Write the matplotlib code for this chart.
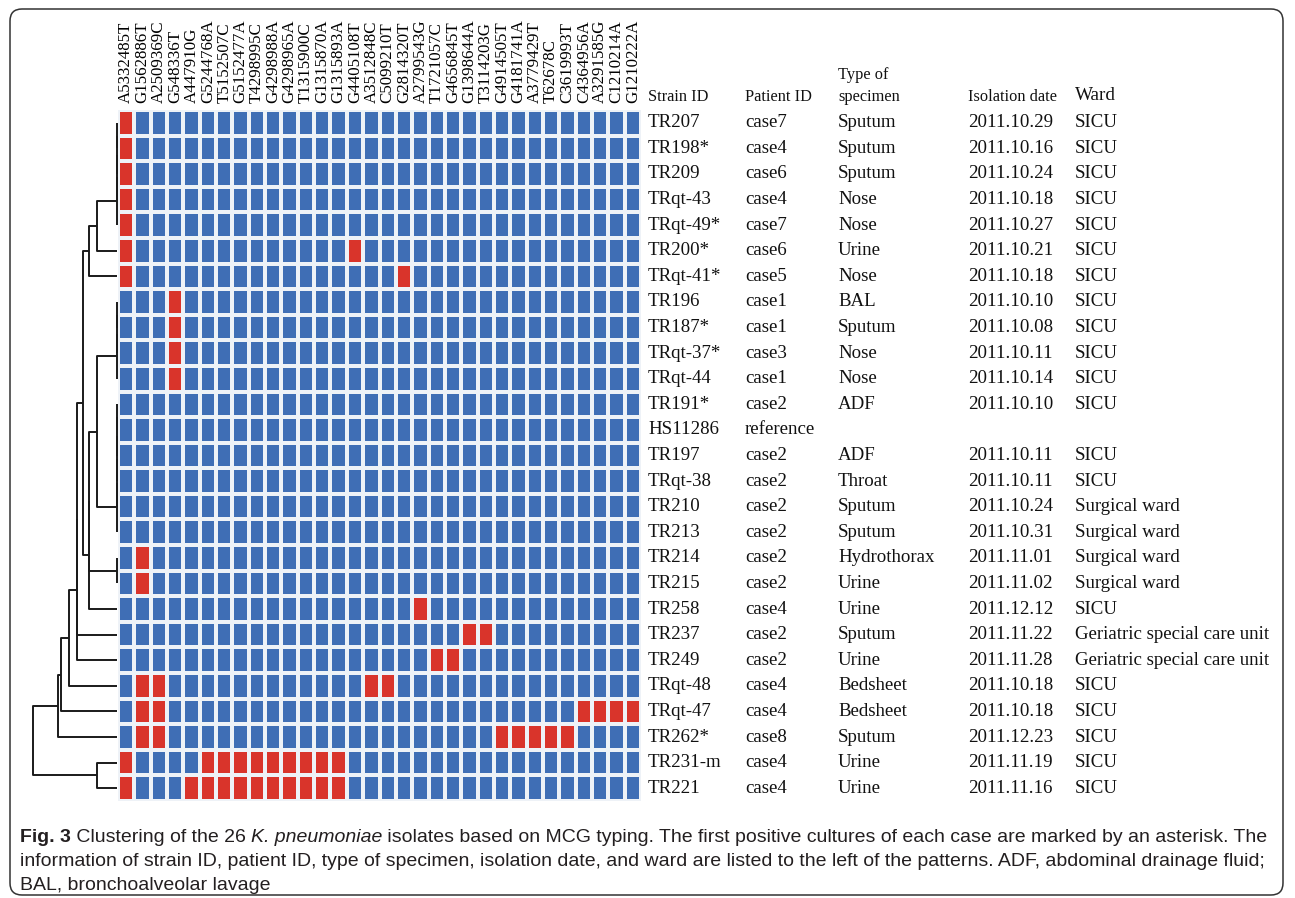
import matplotlib
matplotlib.use("Agg")
import matplotlib.pyplot as plt
from matplotlib.colors import ListedColormap
from matplotlib.patches import FancyBboxPatch
from matplotlib.transforms import blended_transform_factory
import numpy as np

W, H = 1295, 898

snps = ["A5332485T", "G1562886T", "A2509369C", "G548336T", "A447910G", "G5244768A",
        "T5152507C", "G5152477A", "T4298995C", "G4298988A", "G4298965A", "T1315900C",
        "G1315870A", "G1315893A", "G4405108T", "A3512848C", "C5099210T", "G2814320T",
        "A2799543G", "T1721057C", "G4656845T", "G1398644A", "T3114203G", "G4914505T",
        "G4181741A", "A3779429T", "T62678C", "C3619993T", "C4364956A", "A3291585G",
        "C1210214A", "G1210222A"]

strain_ids = ["TR207", "TR198*", "TR209", "TRqt-43", "TRqt-49*", "TR200*", "TRqt-41*",
              "TR196", "TR187*", "TRqt-37*", "TRqt-44", "TR191*", "HS11286", "TR197",
              "TRqt-38", "TR210", "TR213", "TR214", "TR215", "TR258", "TR237", "TR249",
              "TRqt-48", "TRqt-47", "TR262*", "TR231-m", "TR221"]
patient_ids = ["case7", "case4", "case6", "case4", "case7", "case6", "case5", "case1",
               "case1", "case3", "case1", "case2", "reference", "case2", "case2", "case2",
               "case2", "case2", "case2", "case4", "case2", "case2", "case4", "case4",
               "case8", "case4", "case4"]
specimens = ["Sputum", "Sputum", "Sputum", "Nose", "Nose", "Urine", "Nose", "BAL", "Sputum",
             "Nose", "Nose", "ADF", "", "ADF", "Throat", "Sputum", "Sputum", "Hydrothorax",
             "Urine", "Urine", "Sputum", "Urine", "Bedsheet", "Bedsheet", "Sputum", "Urine",
             "Urine"]
dates = ["2011.10.29", "2011.10.16", "2011.10.24", "2011.10.18", "2011.10.27", "2011.10.21",
         "2011.10.18", "2011.10.10", "2011.10.08", "2011.10.11", "2011.10.14", "2011.10.10",
         "", "2011.10.11", "2011.10.11", "2011.10.24", "2011.10.31", "2011.11.01",
         "2011.11.02", "2011.12.12", "2011.11.22", "2011.11.28", "2011.10.18", "2011.10.18",
         "2011.12.23", "2011.11.19", "2011.11.16"]
wards = ["SICU"] * 12 + ["", "SICU", "SICU"] + ["Surgical ward"] * 4 + ["SICU"] + \
        ["Geriatric special care unit"] * 2 + ["SICU"] * 5

# columns with the mutant allele (red) for each strain
positive_cols = [[0], [0], [0], [0], [0], [0, 14], [0, 17], [3], [3], [3], [3],
                 [], [], [], [], [], [], [1], [1], [18], [21, 22], [19, 20],
                 [1, 2, 15, 16], [1, 2, 28, 29, 30, 31], [1, 2, 23, 24, 25, 26, 27],
                 [0, 5, 6, 7, 8, 9, 10, 11, 12, 13], [0, 4, 5, 6, 7, 8, 9, 10, 11, 12, 13]]

# dendrogram merges (child a, child b, height); ids >= 27 are earlier merges
merges = [(0, 1, 0), (27, 2, 0), (28, 3, 0), (29, 4, 0), (30, 5, 20), (31, 6, 28),
          (7, 8, 0), (33, 9, 0), (34, 10, 0),
          (11, 12, 0), (36, 13, 0), (37, 14, 0), (38, 15, 0), (39, 16, 0),
          (35, 40, 20), (17, 18, 0), (41, 42, 28), (43, 19, 28), (32, 44, 34),
          (45, 20, 40), (46, 21, 40), (47, 22, 48), (48, 23, 56), (49, 24, 59),
          (25, 26, 20), (50, 51, 84)]

n_rows, n_cols = len(strain_ids), len(snps)
grid = np.zeros((n_rows, n_cols))
for r, cols in enumerate(positive_cols):
    grid[r, cols] = 1

fig = plt.figure(figsize=(W / 100, H / 100), dpi=100)

def px_axes(x0, y0, x1, y1):
    return fig.add_axes([x0 / W, 1 - y1 / H, (x1 - x0) / W, (y1 - y0) / H])

# background with frame
bg = fig.add_axes([0, 0, 1, 1], zorder=-1)
bg.set_xlim(0, W)
bg.set_ylim(H, 0)
bg.axis("off")
bg.add_patch(FancyBboxPatch((10, 9), W - 22, H - 12, boxstyle="round,pad=0,rounding_size=12",
                            fill=False, ec="#333333", lw=1.1))

# heatmap
hm = px_axes(118, 110, 641, 801)
hm.pcolormesh(grid, cmap=ListedColormap(["#3F6EB5", "#D9342B"]), edgecolors="#EEF2F7",
              linewidth=1.6)
hm.set_xlim(0, n_cols)
hm.set_ylim(n_rows, 0)
hm.xaxis.tick_top()
hm.set_xticks(np.arange(n_cols) + 0.5)
hm.set_xticklabels(snps, rotation=90, family="Liberation Serif", fontsize=12.2)
hm.tick_params(axis="x", length=0, pad=5)
hm.set_yticks([])
for s in hm.spines.values():
    s.set_visible(False)

# dendrogram
dn = px_axes(30, 110, 117, 801)
dn.set_xlim(87, 0)
dn.set_ylim(n_rows, 0)
dn.axis("off")
ypos = {i: i + 0.5 for i in range(n_rows)}
hgt = {i: 0 for i in range(n_rows)}
for k, (a, b, h) in enumerate(merges):
    dn.plot([hgt[a], h, h, hgt[b]], [ypos[a], ypos[a], ypos[b], ypos[b]],
            color="#1a1a1a", lw=1.4, clip_on=False, solid_capstyle="butt")
    ypos[n_rows + k] = (ypos[a] + ypos[b]) / 2
    hgt[n_rows + k] = h

# table of strain information
tr = blended_transform_factory(bg.transData, hm.transData)
col_x = [648, 745, 838, 968, 1075]
tkw = dict(family="Liberation Serif", fontsize=13.6, color="#111111", va="center")
for r in range(n_rows):
    for x, vals in zip(col_x, [strain_ids, patient_ids, specimens, dates, wards]):
        bg.text(x, r + 0.5, vals[r], transform=tr, **tkw)

hkw = dict(family="Liberation Serif", fontsize=11.8, color="#111111", va="center")
bg.text(col_x[0], 97, "Strain ID", **hkw)
bg.text(col_x[1], 97, "Patient ID", **hkw)
bg.text(col_x[2], 75, "Type of", **hkw)
bg.text(col_x[2], 97, "specimen", **hkw)
bg.text(col_x[3], 97, "Isolation date", **hkw)
bg.text(col_x[4], 96, "Ward", family="Liberation Serif", fontsize=13.8, color="#111111",
        va="center")

# caption
cap = dict(family="Liberation Sans", fontsize=14, color="#231f20", va="center")
renderer = fig.canvas.get_renderer()

def runs(x, y, parts):
    for txt, style in parts:
        kw = dict(cap)
        if style == "b":
            kw["weight"] = "bold"
        if style == "i":
            kw["style"] = "italic"
        t = bg.text(x, y, txt, **kw)
        bb = t.get_window_extent(renderer)
        x += bb.width

runs(20, 838, [("Fig. 3", "b"), (" Clustering of the 26 ", ""), ("K. pneumoniae", "i"),
               (" isolates based on MCG typing. The first positive cultures of each case are "
                "marked by an asterisk. The", "")])
runs(20, 862, [("information of strain ID, patient ID, type of specimen, isolation date, and "
                "ward are listed to the left of the patterns. ADF, abdominal drainage fluid;", "")])
runs(20, 886, [("BAL, bronchoalveolar lavage", "")])

fig.savefig("out.png", dpi=100)
